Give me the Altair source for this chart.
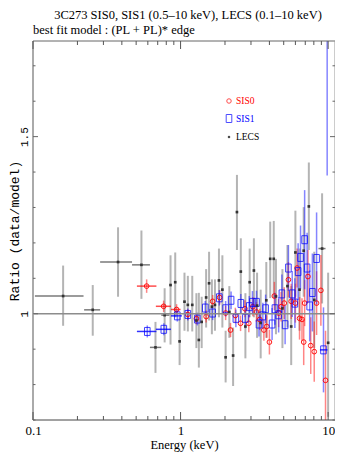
import altair as alt
import pandas as pd

# ---------------- data ----------------
# LECS (black points, grey error bars)
lecs_e = [0.16, 0.254, 0.377, 0.543, 0.676, 0.78, 0.855, 0.92, 0.985, 1.063, 1.12, 1.2, 1.28, 1.33, 1.39,
          1.49, 1.56, 1.63, 1.71, 1.82, 1.92, 2.02, 2.14, 2.27, 2.41, 2.56, 2.75, 2.94, 3.14, 3.3,
          3.49, 3.81, 4.05, 4.28, 4.43, 4.9, 5.3, 5.62, 6.0, 6.4, 6.83, 7.4, 8.05, 9.1, 10.0]
lecs_r = [1.050, 1.011, 1.146, 1.138, 0.905, 0.996, 1.081, 1.089, 0.922, 1.034, 1.025, 1.025, 0.981, 0.926, 0.977,
          1.046, 1.086, 1.020, 1.025, 1.094, 1.068, 0.877, 1.005, 0.882, 1.287, 1.119, 0.964, 1.089, 1.122, 1.023,
          0.974, 1.038, 1.155, 1.155, 1.049, 1.015, 1.078, 0.964, 1.173, 1.068, 1.178, 1.303, 1.039, 1.184, 0.918]
lecs_lo = [0.966, 0.938, 1.048, 1.042, 0.833, 0.919, 0.913, 0.990, 0.855, 0.952, 0.950, 0.950, 0.903, 0.848, 0.903,
           0.961, 0.981, 0.942, 0.952, 0.990, 0.961, 0.806, 0.932, 0.796, 1.180, 1.000, 0.874, 0.990, 0.990, 0.932,
           0.874, 0.932, 1.044, 1.044, 0.942, 0.903, 0.961, 0.855, 1.048, 0.952, 1.048, 1.180, 0.903, 1.029, 0.709]
lecs_hi = [1.136, 1.081, 1.244, 1.235, 0.977, 1.072, 1.165, 1.173, 0.990, 1.116, 1.107, 1.107, 1.058, 1.059, 1.048,
           1.126, 1.175, 1.097, 1.097, 1.184, 1.165, 0.952, 1.078, 0.961, 1.392, 1.213, 1.058, 1.184, 1.213, 1.116,
           1.068, 1.146, 1.260, 1.262, 1.155, 1.126, 1.194, 1.078, 1.291, 1.184, 1.301, 1.427, 1.175, 1.340, 1.116]
# LECS wide energy bins (horizontal bars)
lecs_bin_r = [1.050, 1.011, 1.146, 1.138, 0.905, 0.996, 1.184]
lecs_bin_lo = [0.103, 0.222, 0.285, 0.469, 0.62, 0.74, 8.6]
lecs_bin_hi = [0.22, 0.285, 0.469, 0.62, 0.74, 0.84, 9.6]

# SIS0 (red circles)
sis0_e = [0.589, 0.768, 0.94, 1.12, 1.28, 1.49, 1.65, 1.84, 2.02, 2.18, 2.35, 2.55, 2.73, 2.9, 3.09, 3.27,
          3.44, 3.67, 3.84, 4.0, 4.32, 4.62, 4.8, 5.04, 5.38, 5.62, 6.0, 6.16, 6.4, 6.65, 6.83, 6.93,
          7.3, 7.62, 8.05, 8.35, 8.93, 9.6]
sis0_r = [1.078, 1.021, 1.012, 0.998, 0.986, 0.992, 1.035, 1.046, 1.002, 0.954, 0.995, 0.973, 1.014, 0.973,
          1.020, 1.005, 0.984, 0.954, 0.964, 0.920, 1.050, 1.002, 1.020, 1.030, 1.096, 1.035, 1.030, 1.129,
          0.987, 0.984, 0.920, 1.030, 1.105, 0.910, 0.893, 1.030, 1.066, 0.812]
sis0_err = [0.019, 0.016, 0.015, 0.015, 0.016, 0.017, 0.018, 0.02, 0.02, 0.02, 0.022, 0.022, 0.024, 0.025,
            0.027, 0.028, 0.03, 0.03, 0.032, 0.035, 0.04, 0.04, 0.042, 0.045, 0.05, 0.05, 0.055, 0.055,
            0.06, 0.06, 0.065, 0.065, 0.075, 0.08, 0.085, 0.09, 0.1, 0.14]
sis0_bin_r = [1.078, 1.021, 1.012]
sis0_bin_lo = [0.506, 0.68, 0.86]
sis0_bin_hi = [0.686, 0.86, 1.0]

# SIS1 (blue squares)
sis1_e = [0.595, 0.77, 0.95, 1.12, 1.3, 1.47, 1.65, 1.83, 2.02, 2.2, 2.37, 2.56, 2.75, 2.92, 3.07, 3.27,
          3.4, 3.61, 3.77, 4.17, 4.36, 4.62, 4.86, 5.11, 5.38, 5.71, 5.95, 6.26, 6.5, 6.93, 7.2, 7.5,
          7.82, 8.35, 9.3, 9.85]
sis1_r = [0.950, 0.956, 0.994, 0.998, 0.985, 1.016, 1.002, 1.045, 1.014, 1.038, 0.987, 1.029, 0.987, 1.020,
          1.032, 1.032, 0.971, 0.994, 1.014, 0.971, 1.014, 0.997, 1.056, 0.969, 1.129, 1.056, 1.030, 1.119,
          1.159, 1.209, 1.129, 1.022, 1.060, 1.156, 0.898, 2.0]
sis1_err = [0.017, 0.017, 0.016, 0.017, 0.018, 0.02, 0.02, 0.022, 0.022, 0.025, 0.025, 0.027, 0.028, 0.03,
            0.032, 0.033, 0.035, 0.037, 0.04, 0.045, 0.045, 0.05, 0.055, 0.055, 0.065, 0.065, 0.07, 0.08,
            0.09, 0.14, 0.1, 0.1, 0.11, 0.13, 0.12, 0.61]
sis1_bin_r = [0.950, 0.956, 0.994, 0.898]
sis1_bin_lo = [0.506, 0.68, 0.86, 8.8]
sis1_bin_hi = [0.686, 0.86, 1.02, 9.9]

x_major = [0.1, 1, 10]
x_minor = [0.2, 0.3, 0.4, 0.5, 0.6, 0.7, 0.8, 0.9, 2, 3, 4, 5, 6, 7, 8, 9]
y_major = [1.0, 1.5]
y_minor = [0.7, 0.8, 0.9, 1.1, 1.2, 1.3, 1.4, 1.6, 1.7]

title1 = "3C273 SIS0, SIS1 (0.5\u201310 keV), LECS (0.1\u201310 keV)"
title2 = "best fit model : (PL + PL)* edge"
legend_names = ["SIS0", "SIS1", "LECS"]
legend_colors = ["#ff0000", "#0000ff", "#000000"]

# ---------------- chart ----------------
W, H = 302, 379
SERIF = "Liberation Serif"
MONO = "Liberation Mono"

xs = alt.Scale(type="log", domain=[0.1, 11.13], nice=False)
ys = alt.Scale(domain=[0.7, 1.77], nice=False, zero=False)

lecs = pd.DataFrame({"e": lecs_e, "r": lecs_r, "lo": lecs_lo, "hi": lecs_hi})
lecs_bins = pd.DataFrame({"r": lecs_bin_r, "lo": lecs_bin_lo, "hi": lecs_bin_hi})
s0 = pd.DataFrame({"e": sis0_e, "r": sis0_r, "err": sis0_err})
s0["lo"] = s0["r"] - s0["err"]
s0["hi"] = s0["r"] + s0["err"]
s0_bins = pd.DataFrame({"r": sis0_bin_r, "lo": sis0_bin_lo, "hi": sis0_bin_hi})
s1 = pd.DataFrame({"e": sis1_e, "r": sis1_r, "err": sis1_err})
s1["lo"] = s1["r"] - s1["err"]
s1["hi"] = s1["r"] + s1["err"]
s1_bins = pd.DataFrame({"r": sis1_bin_r, "lo": sis1_bin_lo, "hi": sis1_bin_hi})

one = alt.Data(values=[{"a": 1}])

x_axis = alt.Axis(values=x_major, format="~g", tickSize=0, ticks=False, domain=False, grid=False,
                  labelFont=SERIF, labelFontSize=13, labelColor="#000", labelPadding=4,
                  labelFlush=False, labelOverlap=False,
                  title="Energy (keV)", titleFont=SERIF, titleFontSize=12.5, titleFontWeight="normal",
                  titleColor="#000", titlePadding=1)
y_axis = alt.Axis(values=y_major, format="~g", tickSize=0, ticks=False, domain=False, grid=False,
                  labelFont=MONO, labelFontSize=11, labelColor="#000", labelPadding=4,
                  labelAngle=270, labelAlign="center", labelBaseline="bottom",
                  labelFlush=False, labelOverlap=False,
                  title="Ratio (data/model)", titleFont=MONO, titleFontSize=13, titleFontWeight="normal",
                  titleColor="#000", titleAngle=270, titleBaseline="bottom", titleX=-12)


def X(field):
    return alt.X(field, type="quantitative", scale=xs, axis=x_axis)


def Y(field):
    return alt.Y(field, type="quantitative", scale=ys, axis=y_axis)


# error bars
lecs_y = alt.Chart(lecs).mark_rule(color="#b4b4b4", strokeWidth=2, clip=True).encode(
    x=X("e"), y=Y("lo"), y2="hi:Q")
lecs_x = alt.Chart(lecs_bins).mark_rule(color="#7a7a7a", strokeWidth=1.5, clip=True).encode(
    x=X("lo"), x2="hi:Q", y=Y("r"))
s0_y = alt.Chart(s0).mark_rule(color="#ff2020", opacity=0.55, strokeWidth=1.5, clip=True).encode(
    x=X("e"), y=Y("lo"), y2="hi:Q")
s0_x = alt.Chart(s0_bins).mark_rule(color="#ff0000", opacity=0.7, strokeWidth=1.5, clip=True).encode(
    x=X("lo"), x2="hi:Q", y=Y("r"))
s1_y = alt.Chart(s1).mark_rule(color="#2020ff", opacity=0.55, strokeWidth=1.5, clip=True).encode(
    x=X("e"), y=Y("lo"), y2="hi:Q")
s1_x = alt.Chart(s1_bins).mark_rule(color="#0000ff", opacity=0.8, strokeWidth=1.5, clip=True).encode(
    x=X("lo"), x2="hi:Q", y=Y("r"))

# markers
rect_path = "M-0.7,-1L0.7,-1L0.7,1L-0.7,1Z"
s0_pt = alt.Chart(s0).mark_point(shape="circle", size=22, color="#ff0000", strokeWidth=1,
                                  filled=False, opacity=0.9, clip=True).encode(x=X("e"), y=Y("r"))
s1_pt = alt.Chart(s1).mark_point(shape=rect_path, size=64, color="#0000ff", strokeWidth=1,
                                  filled=False, opacity=0.75, clip=True).encode(x=X("e"), y=Y("r"))
lecs_pt = alt.Chart(lecs).mark_point(shape="square", size=7, color="#333333", filled=True,
                                     opacity=1, clip=True).encode(x=X("e"), y=Y("r"))

# ratio = 1 reference line
unity = alt.Chart(pd.DataFrame({"r": [1.0]})).mark_rule(color="#8c8c8c", strokeWidth=1.5).encode(
    y=Y("r"))

# frame
frame_left = alt.Chart(one).mark_rule(color="#aaaaaa", strokeWidth=2).encode(
    x=alt.value(0), y=alt.value(0), y2=alt.value(H))
frame_bottom = alt.Chart(one).mark_rule(color="#444444", strokeWidth=1).encode(
    x=alt.value(0), x2=alt.value(W), y=alt.value(H))
frame_top = alt.Chart(one).mark_rule(color="#666666", strokeWidth=1).encode(
    x=alt.value(0), x2=alt.value(W), y=alt.value(0))
frame_right = alt.Chart(one).mark_rule(color="#999999", strokeWidth=1).encode(
    x=alt.value(W), y=alt.value(0), y2=alt.value(H))


# inward ticks
def xticks(vals, length, color):
    df = pd.DataFrame({"v": vals})
    bot = alt.Chart(df).mark_rule(color=color, strokeWidth=1).encode(
        x=X("v"), y=alt.value(H), y2=alt.value(H - length))
    top = alt.Chart(df).mark_rule(color=color, strokeWidth=1).encode(
        x=X("v"), y=alt.value(0), y2=alt.value(length))
    return [bot, top]


def yticks(vals, length, color):
    df = pd.DataFrame({"v": vals})
    left = alt.Chart(df).mark_rule(color=color, strokeWidth=1).encode(
        y=Y("v"), x=alt.value(0), x2=alt.value(length))
    right = alt.Chart(df).mark_rule(color=color, strokeWidth=1).encode(
        y=Y("v"), x=alt.value(W), x2=alt.value(W - length))
    return [left, right]


ticks = (xticks(x_major, 8, "#555555") + xticks(x_minor, 4, "#555555")
         + yticks(y_major, 5, "#666666") + yticks(y_minor, 2.5, "#666666"))

# titles
t1 = alt.Chart(one).mark_text(text=title1, font=SERIF, fontSize=12.5, color="#000",
                              align="center", baseline="middle").encode(
    x=alt.value(155), y=alt.value(-26))
t2 = alt.Chart(one).mark_text(text=title2, font=SERIF, fontSize=12.5, color="#000",
                              align="left", baseline="middle").encode(
    x=alt.value(0), y=alt.value(-11))

# legend
leg_c = alt.Chart(one).mark_point(shape="circle", size=20, color="#ff0000", filled=False,
                                  strokeWidth=1).encode(x=alt.value(196), y=alt.value(60))
leg_s = alt.Chart(one).mark_point(shape=rect_path, size=64, color="#0000ff", filled=False,
                                  strokeWidth=1).encode(x=alt.value(196), y=alt.value(77.5))
leg_d = alt.Chart(one).mark_point(shape="square", size=5, color="#000", filled=True).encode(
    x=alt.value(196), y=alt.value(96))
leg_texts = []
for name, col, yy in zip(legend_names, legend_colors, [60, 78, 96]):
    leg_texts.append(alt.Chart(one).mark_text(text=name, font=SERIF, fontSize=9.5, color=col,
                                              align="left", baseline="middle").encode(
        x=alt.value(203), y=alt.value(yy)))

layers = [lecs_y, lecs_x, s0_y, s0_x, s1_y, s1_x, s0_pt, s1_pt, lecs_pt, unity,
          frame_left, frame_bottom, frame_top, frame_right] + ticks + [t1, t2, leg_c, leg_s, leg_d] + leg_texts

chart = alt.layer(*layers).properties(
    width=W, height=H,
    autosize=alt.AutoSizeParams(type="none"),
    padding={"left": 25, "top": 33, "right": 0, "bottom": 35},
    background="white",
).configure_view(stroke=None)

chart.save("out.html", embed_options={"renderer": "svg", "actions": False})
